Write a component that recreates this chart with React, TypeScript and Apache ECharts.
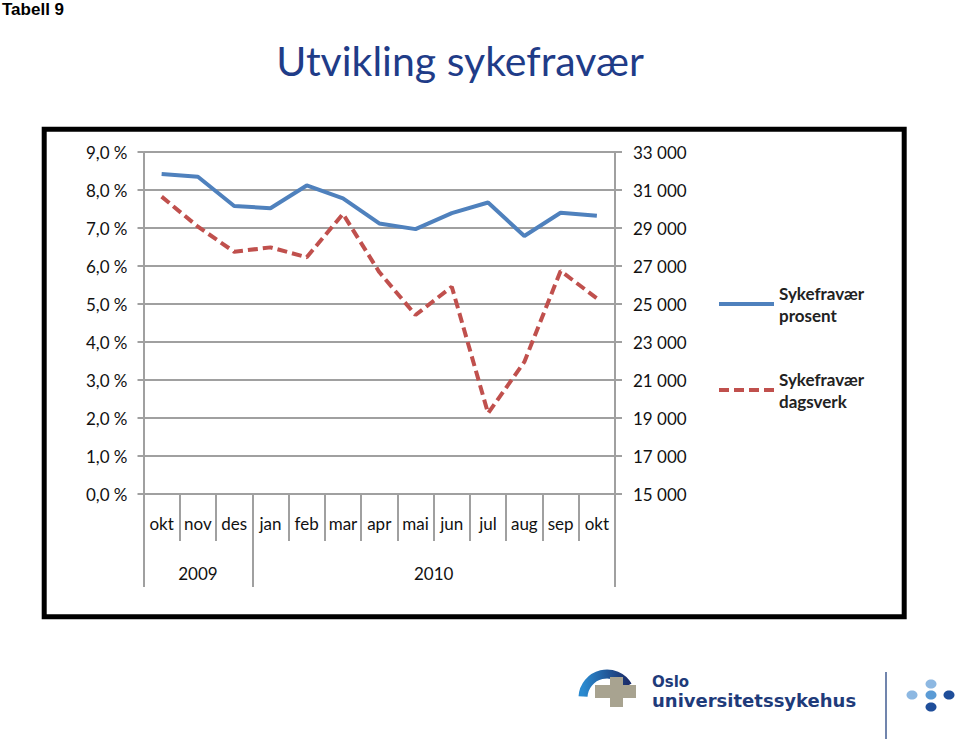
import React, { useEffect, useRef } from "react";
import * as echarts from "echarts";

const months = ["okt", "nov", "des", "jan", "feb", "mar", "apr", "mai", "jun", "jul", "aug", "sep", "okt"];
const years = ["2009", "2010"];
const yearCenters = [1.5, 8];
const yearBounds = [0, 3, 13];
const prosent = [8.42, 8.35, 7.58, 7.52, 8.12, 7.78, 7.12, 6.97, 7.39, 7.67, 6.79, 7.40, 7.32];
const dagsverk = [30650, 29070, 27750, 27980, 27460, 29740, 26680, 24420, 25910, 19250, 21950, 26740, 25300];
const leftTicks = [0, 1, 2, 3, 4, 5, 6, 7, 8, 9];
const rightTicks = [15000, 17000, 19000, 21000, 23000, 25000, 27000, 29000, 31000, 33000];
const seriesNames = ["Sykefravær\nprosent", "Sykefravær\ndagsverk"];

const GRAY = "#A0A0A0";
const FONT = "Lato";

const fmtPct = (v: number) => v.toFixed(1).replace(".", ",") + " %";
const fmtThousand = (v: number) => {
  const s = String(Math.round(v));
  return s.length > 3 ? s.slice(0, s.length - 3) + " " + s.slice(s.length - 3) : s;
};

export default function App() {
  const ref = useRef<HTMLDivElement>(null);
  useEffect(() => {
    if (!ref.current) return;
    const chart = echarts.init(ref.current, undefined, { renderer: "svg" });
    const legendText = {
      fontFamily: FONT,
      fontSize: 17,
      fontWeight: "bold" as const,
      color: "#222",
      lineHeight: 22,
      padding: [22, 0, 0, 0],
    };
    const legendBase = {
      orient: "vertical",
      left: 717,
      padding: 0,
      itemWidth: 55,
      itemHeight: 14,
      itemGap: 5,
      textStyle: legendText,
      itemStyle: { color: "rgba(0,0,0,0)", borderWidth: 0, opacity: 0 },
      lineStyle: { width: 4 },
    };
    chart.setOption({
      animation: false,
      backgroundColor: "#fff",
      textStyle: { fontFamily: FONT },
      grid: { left: 143.5, right: 345, top: 152, bottom: 245, containLabel: false },
      legend: [
        { ...legendBase, data: [seriesNames[0]], top: 271 },
        { ...legendBase, data: [seriesNames[1]], top: 357 },
      ],
      xAxis: [
        {
          type: "category",
          data: months,
          boundaryGap: true,
          axisLine: { show: true, lineStyle: { color: GRAY, width: 2 } },
          axisTick: { show: true, interval: 0, length: 47, lineStyle: { color: GRAY, width: 2 } },
          axisLabel: { interval: 0, margin: 21, fontSize: 17, color: "#111", fontFamily: FONT },
          splitLine: { show: false },
        },
        {
          type: "value",
          min: 0,
          max: 13,
          position: "bottom",
          axisLine: { show: false },
          splitLine: { show: false },
          axisTick: {
            show: true,
            customValues: yearBounds,
            length: 93,
            lineStyle: { color: GRAY, width: 2 },
          },
          axisLabel: {
            show: true,
            customValues: yearCenters,
            margin: 71,
            fontSize: 17,
            color: "#111",
            fontFamily: FONT,
            formatter: (v: number) => years[yearCenters.indexOf(v)] ?? "",
          },
        },
      ],
      yAxis: [
        {
          type: "value",
          min: 0,
          max: 9,
          interval: 1,
          position: "left",
          axisLine: { show: true, lineStyle: { color: GRAY, width: 2 } },
          axisTick: { show: true, length: 6, lineStyle: { color: GRAY, width: 2 } },
          axisLabel: {
            margin: 16,
            fontSize: 17,
            color: "#111",
            fontFamily: FONT,
            formatter: (v: number) => (leftTicks.includes(v) ? fmtPct(v) : ""),
          },
          splitLine: { show: true, lineStyle: { color: GRAY, width: 2 } },
        },
        {
          type: "value",
          min: rightTicks[0],
          max: rightTicks[rightTicks.length - 1],
          position: "right",
          axisLine: { show: true, lineStyle: { color: GRAY, width: 2 } },
          axisTick: { show: true, length: 7, customValues: rightTicks, lineStyle: { color: GRAY, width: 2 } },
          axisLabel: {
            margin: 18,
            fontSize: 17,
            color: "#111",
            fontFamily: FONT,
            customValues: rightTicks,
            formatter: (v: number) => fmtThousand(v),
          },
          splitLine: { show: false },
        },
      ],
      series: [
        {
          name: seriesNames[0],
          type: "line",
          data: prosent,
          xAxisIndex: 0,
          yAxisIndex: 0,
          symbol: "none",
          color: "#4F81BD",
          lineStyle: { color: "#4F81BD", width: 4 },
        },
        {
          name: seriesNames[1],
          type: "line",
          data: dagsverk,
          xAxisIndex: 0,
          yAxisIndex: 1,
          symbol: "none",
          color: "#C0504D",
          lineStyle: { color: "#C0504D", width: 4, type: [10, 5] },
        },
      ],
      graphic: [
        {
          type: "text",
          left: 2,
          top: 1,
          style: { text: "Tabell 9", fontFamily: "Liberation Sans", fontWeight: "bold", fontSize: 17, fill: "#000" },
        },
        {
          type: "text",
          x: 460,
          y: 60,
          style: {
            text: "Utvikling sykefravær",
            fontFamily: FONT,
            fontSize: 41,
            fill: "#1F3C88",
            align: "center",
            verticalAlign: "middle",
          },
        },
        {
          type: "rect",
          shape: { x: 44.2, y: 129.2, width: 860, height: 487.5 },
          style: { fill: "none", stroke: "#000", lineWidth: 5 },
          z: 100,
        },
        {
          type: "arc",
          shape: { cx: 607, cy: 698, r: 24, startAngle: 3.2, endAngle: 5.75, clockwise: true },
          style: {
            fill: "none",
            lineWidth: 9,
            stroke: new echarts.graphic.LinearGradient(0, 0, 1, 0, [
              { offset: 0, color: "#2A8AD0" },
              { offset: 1, color: "#1B2E6B" },
            ]),
          },
        },
        { type: "rect", shape: { x: 595, y: 685, width: 41, height: 13 }, style: { fill: "#A8A390" } },
        { type: "rect", shape: { x: 610, y: 677, width: 13, height: 30 }, style: { fill: "#A8A390" } },
        {
          type: "text",
          x: 652,
          y: 692,
          style: {
            text: "{a|Oslo}\n{b|universitetssykehus}",
            verticalAlign: "middle",
            rich: {
              a: { fontFamily: "DejaVu Sans", fontWeight: "bold", fontSize: 15, fill: "#1F3B7A", lineHeight: 17 },
              b: { fontFamily: "DejaVu Sans", fontWeight: "bold", fontSize: 18, fill: "#1F3B7A", lineHeight: 20 },
            },
          },
        },
        { type: "line", shape: { x1: 886, y1: 672, x2: 886, y2: 739 }, style: { stroke: "#7185AD", lineWidth: 2 } },
        { type: "ellipse", shape: { cx: 931, cy: 684, rx: 5.5, ry: 4.5 }, style: { fill: "#8DB8E2" } },
        { type: "ellipse", shape: { cx: 912, cy: 695, rx: 5.5, ry: 4.5 }, style: { fill: "#8DB8E2" } },
        { type: "ellipse", shape: { cx: 931, cy: 695, rx: 5.5, ry: 4.5 }, style: { fill: "#5B9BD5" } },
        { type: "ellipse", shape: { cx: 949, cy: 695, rx: 5.5, ry: 4.5 }, style: { fill: "#1F4E9A" } },
        { type: "ellipse", shape: { cx: 931, cy: 707, rx: 5.5, ry: 4.5 }, style: { fill: "#1F4E9A" } },
      ],
    });
    return () => chart.dispose();
  }, []);
  return <div ref={ref} style={{ position: "fixed", left: 0, top: 0, width: 960, height: 739 }} />;
}
